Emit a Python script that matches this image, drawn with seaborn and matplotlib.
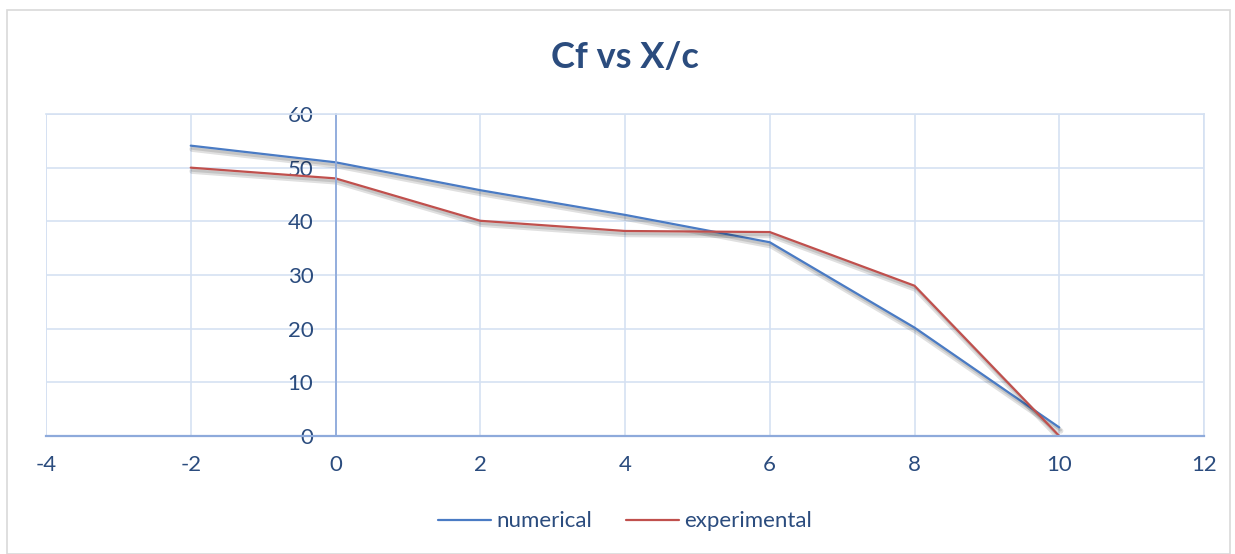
import matplotlib
matplotlib.use("Agg")
import matplotlib.pyplot as plt
import matplotlib.patheffects as pe
from matplotlib.patches import Rectangle
import pandas as pd
import seaborn as sns

# data
x_c = [-2, 0, 2, 4, 6, 8, 10]
numerical = [54.1, 51.0, 45.8, 41.2, 36.1, 20.2, 1.6]
experimental = [50.0, 48.0, 40.1, 38.2, 38.0, 28.0, 0.0]
series_names = ["numerical", "experimental"]
x_ticks = [-4, -2, 0, 2, 4, 6, 8, 10, 12]
y_ticks = [0, 10, 20, 30, 40, 50, 60]

df = pd.DataFrame({"x": x_c * 2,
                   "Cf": numerical + experimental,
                   "series": [series_names[0]] * len(x_c) + [series_names[1]] * len(x_c)})

sns.set_theme(style="white")
plt.rcParams["font.family"] = ["Lato", "DejaVu Sans"]
plt.rcParams["axes.unicode_minus"] = False

text_col = "#2B4C7E"
grid_col = "#D5E1F2"
axis_col = "#8EAADB"

fig = plt.figure(figsize=(12.35, 5.54), dpi=100)
ax = fig.add_axes([46 / 1235, 1 - 436 / 554, (1204 - 46) / 1235, (436 - 114) / 554])

sns.lineplot(data=df, x="x", y="Cf", hue="series", palette=["#4A7BC4", "#C0504D"],
             linewidth=1.6, ax=ax, sort=False, legend=True)

# soft drop shadow like the Excel line effect
shadow = [pe.SimpleLineShadow(offset=(1, -2.5), shadow_color="black", alpha=0.12, linewidth=4),
          pe.SimpleLineShadow(offset=(1, -2), shadow_color="black", alpha=0.12, linewidth=2),
          pe.Normal()]
for line in ax.get_lines():
    line.set_path_effects(shadow)

ax.set_xlim(-4, 12)
ax.set_ylim(0, 60)
ax.set_xticks(x_ticks)
ax.set_yticks(y_ticks)
ax.grid(True, color=grid_col, linewidth=1.2)
ax.set_axisbelow(True)

for s in ["top", "right"]:
    ax.spines[s].set_color(grid_col)
    ax.spines[s].set_linewidth(1.2)
ax.spines["left"].set_position(("data", 0))
ax.spines["left"].set_color(axis_col)
ax.spines["left"].set_linewidth(1.3)
ax.spines["bottom"].set_color(axis_col)
ax.spines["bottom"].set_linewidth(1.6)
ax.tick_params(axis="both", length=0, labelsize=16, colors=text_col)
ax.tick_params(axis="x", pad=14)
ax.tick_params(axis="y", pad=16)
ax.set_xlabel("")
ax.set_ylabel("")

# left boundary at x=-4 drawn like a gridline
ax.axvline(-4, color=grid_col, linewidth=1.2, zorder=0)

fig.suptitle("Cf vs X/c", x=(46 + 1204) / 2 / 1235, y=1 - 58 / 554, va="center",
             fontsize=26, fontweight="bold", color=text_col)

handles, labels = ax.get_legend_handles_labels()
for h in handles:
    h.set_path_effects([pe.Normal()])
ax.legend(handles, labels, loc="center", bbox_to_anchor=(0.5, -0.265), ncol=2,
          frameon=False, fontsize=16, labelcolor=text_col, handlelength=2.4,
          columnspacing=1.5, handletextpad=0.25)

fig.patches.append(Rectangle((7 / 1235, 0), 1 - 12 / 1235, 1 - 10 / 554,
                             transform=fig.transFigure, fill=False,
                             edgecolor="#D9D9D9", linewidth=1.2))

fig.savefig("out.png", dpi=100)
